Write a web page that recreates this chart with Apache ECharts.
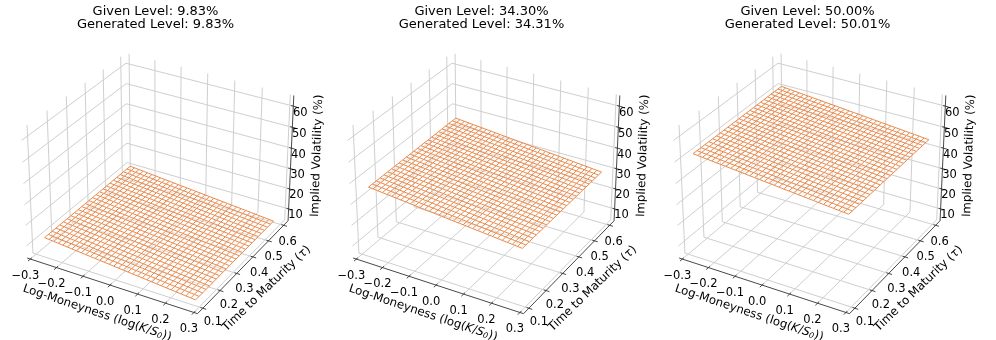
<!DOCTYPE html>
<html>
<head>
<meta charset="utf-8">
<style>html,body{margin:0;padding:0;background:#fff}#main{width:996px;height:340px}</style>
<script src="https://cdn.jsdelivr.net/npm/echarts@6/dist/echarts.min.js"></script>
</head>
<body>
<div id="main"></div>
<script>
// values
var givenLevels = ['9.83', '34.30', '50.00'];
var generatedLevels = ['9.83', '34.31', '50.01'];
var surfaceLevels = [9.83, 34.31, 50.01];
var moneyness = [-0.28, -0.263, -0.245, -0.228, -0.211, -0.193, -0.176, -0.159, -0.141, -0.124, -0.107,
  -0.089, -0.072, -0.055, -0.037, -0.02, -0.003, 0.015, 0.032, 0.049, 0.067, 0.084, 0.101, 0.119,
  0.136, 0.153, 0.171, 0.188, 0.205, 0.223, 0.24, 0.258, 0.275];
var maturity = [0.12, 0.14, 0.16, 0.18, 0.2, 0.22, 0.24, 0.26, 0.28, 0.3, 0.32, 0.34, 0.36,
  0.38, 0.4, 0.42, 0.44, 0.46, 0.48, 0.5, 0.52, 0.54, 0.56, 0.58, 0.6];
// vol offset of the sheet along moneyness, it leans down to the right
var skew = [1.6, 1.39, 1.18, 0.96, 0.75, 0.54, 0.33, 0.11, -0.1, -0.31, -0.53, -0.74, -0.95, -1.16, -1.38, -1.59,
  -1.8, -2.01, -2.23, -2.44, -2.65, -2.86, -3.08, -3.29, -3.5, -3.71, -3.93, -4.14, -4.35, -4.56, -4.78, -4.99, -5.2];
var xTicks = [-0.3, -0.2, -0.1, 0, 0.1, 0.2, 0.3];
var yTicks = [0.1, 0.2, 0.3, 0.4, 0.5, 0.6];
var zTicks = [10, 20, 30, 40, 50, 60];
var xLim = [-0.3125, 0.3125];
var yLim = [0.07, 0.63];
var zLim = [4, 65];

var FONT = '"DejaVu Sans"';
var SCALE = 1640, CX = 160, CY = 177, STEP = 326;

// same view as a default mplot3d axes: elev 30, azim -60, dist 10
var aspect = [1.1905, 1.1905, 0.8929];
var el = 30 * Math.PI / 180, az = -60 * Math.PI / 180, dist = 10;
var w = [Math.cos(el) * Math.cos(az), Math.cos(el) * Math.sin(az), Math.sin(el)];
var u = [-Math.sin(az), Math.cos(az), 0];
var v = [w[1] * u[2] - w[2] * u[1], w[2] * u[0] - w[0] * u[2], w[0] * u[1] - w[1] * u[0]];
function dot(a, b) { return a[0] * b[0] + a[1] * b[1] + a[2] * b[2]; }
function project(x, y, z) {
  var p = [
    ((x - xLim[0]) / (xLim[1] - xLim[0]) - 0.5) * aspect[0],
    ((y - yLim[0]) / (yLim[1] - yLim[0]) - 0.5) * aspect[1],
    ((z - zLim[0]) / (zLim[1] - zLim[0]) - 0.5) * aspect[2]
  ];
  var depth = dist - dot(p, w);
  return [dot(p, u) / depth, dot(p, v) / depth];
}
function seg(a, b) {
  var p = project(a[0], a[1], a[2]), q = project(b[0], b[1], b[2]);
  return [p[0], p[1], q[0], q[1]];
}

function segmentSeries(panel, rows, color, width, z) {
  return {
    type: 'custom', xAxisIndex: panel, yAxisIndex: panel, silent: true, z: z, clip: false,
    data: rows,
    renderItem: function (params, api) {
      var a = api.coord([api.value(0), api.value(1)]);
      var b = api.coord([api.value(2), api.value(3)]);
      return { type: 'line', shape: { x1: a[0], y1: a[1], x2: b[0], y2: b[1] },
        style: { stroke: color, lineWidth: width, fill: null } };
    }
  };
}
// labels: [X, Y, text, dx, dy, rotation, size]
function textSeries(panel, rows) {
  return {
    type: 'custom', xAxisIndex: panel, yAxisIndex: panel, silent: true, z: 10, clip: false,
    data: rows.map(function (r) { return [r[0], r[1]]; }),
    renderItem: function (params, api) {
      var r = rows[params.dataIndex];
      var size = r[6];
      var a = api.coord([api.value(0), api.value(1)]);
      return { type: 'text', x: a[0] + r[3], y: a[1] + r[4], rotation: (r[5] || 0) * Math.PI / 180,
        style: { text: r[2], fill: '#000', align: 'center', verticalAlign: 'middle',
          font: size + 'px ' + FONT,
          rich: {
            i: { fontStyle: 'italic', fontSize: size, fontFamily: FONT },
            s: { fontSize: size - 4, fontStyle: 'italic', fontFamily: FONT, padding: [4, 0, 0, 0] }
          } } };
    }
  };
}

function fmt(t) { return (t < 0 ? '\u2212' : '') + Math.abs(t).toFixed(1); }

var TICK = 11.5, LABEL = 11.8;
var grids = [], xAxes = [], yAxes = [], titles = [], series = [];
[0, 1, 2].forEach(function (i) {
  grids.push({ left: CX - 0.095 * SCALE + STEP * i, top: CY - 0.09 * SCALE, width: 0.185 * SCALE, height: 0.185 * SCALE });
  xAxes.push({ type: 'value', gridIndex: i, min: -0.095, max: 0.09, show: false });
  yAxes.push({ type: 'value', gridIndex: i, min: -0.095, max: 0.09, show: false });
  titles.push({
    text: 'Given Level: ' + givenLevels[i] + '%\nGenerated Level: ' + generatedLevels[i] + '%',
    left: 150.5 + STEP * i, top: 0, textAlign: 'center',
    textStyle: { fontFamily: FONT, fontWeight: 'normal', fontSize: 13, lineHeight: 13, color: '#000' }
  });

  var gridRows = [], axisRows = [], meshRows = [], labels = [];
  var x0 = xLim[0], x1 = xLim[1], y0 = yLim[0], y1 = yLim[1], z0 = zLim[0], z1 = zLim[1];
  xTicks.forEach(function (t) {
    gridRows.push(seg([t, y0, z0], [t, y1, z0]), seg([t, y1, z0], [t, y1, z1]));
    axisRows.push(seg([t, y0 - 0.012, z0], [t, y0 + 0.008, z0]));
    var p = project(t, y0, z0);
    labels.push([p[0], p[1], fmt(t), -5, 16.5, 0, TICK]);
  });
  yTicks.forEach(function (t) {
    gridRows.push(seg([x0, t, z1], [x0, t, z0]), seg([x0, t, z0], [x1, t, z0]));
    axisRows.push(seg([x1 - 0.008, t, z0], [x1 + 0.012, t, z0]));
    var p = project(x1, t, z0);
    var frac = (t - yTicks[0]) / 0.5;
    labels.push([p[0], p[1], fmt(t), 10 - 6 * frac, 14 + 3 * frac, 0, TICK]);
  });
  zTicks.forEach(function (t) {
    gridRows.push(seg([x0, y0, t], [x0, y1, t]), seg([x0, y1, t], [x1, y1, t]));
    axisRows.push(seg([x1 - 0.008, y1, t], [x1 + 0.012, y1, t]));
    var p = project(x1, y1, t);
    labels.push([p[0], p[1], String(t), 7, 6.5, 0, TICK]);
  });
  axisRows.push(seg([x0, y0, z0], [x1, y0, z0]), seg([x1, y0, z0], [x1, y1, z0]), seg([x1, y1, z0], [x1, y1, z1]));

  var lvl = surfaceLevels[i];
  moneyness.forEach(function (m, j) {
    maturity.forEach(function (t, k) {
      if (k > 0) meshRows.push(seg([m, maturity[k - 1], lvl + skew[j]], [m, t, lvl + skew[j]]));
    });
  });
  maturity.forEach(function (t) {
    moneyness.forEach(function (m, j) {
      if (j > 0) meshRows.push(seg([moneyness[j - 1], t, lvl + skew[j - 1]], [m, t, lvl + skew[j]]));
    });
  });

  var c = project(xLim[0], yLim[0], z0);
  labels.push([c[0], c[1], 'Log-Moneyness (log({i|K}/{i|S}{s|0}))', 70, 55, -18.5, LABEL]);
  var d = project(xLim[1], yLim[0], z0);
  labels.push([d[0], d[1], 'Time to Maturity ({i|\u03c4})', 69, -25, 44, LABEL]);
  var e = project(xLim[1], yLim[1], z0);
  labels.push([e[0], e[1], 'Implied Volatility (%)', 29, -65, 88, LABEL]);

  var last = moneyness.length - 1, lastT = maturity.length - 1;
  var corners = [[0, 0], [last, 0], [last, lastT], [0, lastT]].map(function (q) {
    return project(moneyness[q[0]], maturity[q[1]], lvl + skew[q[0]]);
  });

  series.push(segmentSeries(i, gridRows, '#cfcfcf', 1, 1));
  series.push({
    type: 'custom', xAxisIndex: i, yAxisIndex: i, silent: true, z: 2, clip: false,
    data: [[0, 0]],
    renderItem: function (params, api) {
      return { type: 'polygon', shape: { points: corners.map(function (q) { return api.coord(q); }) },
        style: { fill: 'rgba(255,255,255,0.3)' } };
    }
  });
  series.push(segmentSeries(i, meshRows, '#e98a4c', 1, 3));
  series.push(segmentSeries(i, axisRows, '#333', 0.9, 4));
  series.push(textSeries(i, labels));
});

var chart = echarts.init(document.getElementById('main'), null, { renderer: 'canvas' });
chart.setOption({
  animation: false,
  backgroundColor: '#fff',
  title: titles,
  grid: grids,
  xAxis: xAxes,
  yAxis: yAxes,
  series: series
});
</script>
</body>
</html>
